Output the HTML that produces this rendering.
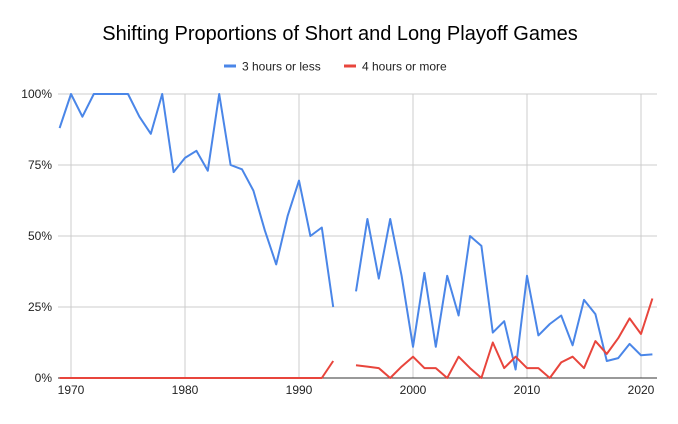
<!DOCTYPE html>
<html><head><style>body{margin:0;background:#fff}</style></head><body>
<svg width="678" height="419" xmlns="http://www.w3.org/2000/svg" font-family="Liberation Sans, Arial, sans-serif">
<rect width="678" height="419" fill="#fff"/>
<text x="340" y="40" text-anchor="middle" font-size="20" fill="#000">Shifting Proportions of Short and Long Playoff Games</text>
<line x1="224" y1="66" x2="236" y2="66" stroke="#4a86e8" stroke-width="3"/>
<text x="242" y="70.5" font-size="12" fill="#222">3 hours or less</text>
<line x1="344" y1="66" x2="356" y2="66" stroke="#e8453c" stroke-width="3"/>
<text x="362" y="70.5" font-size="12" fill="#222">4 hours or more</text>
<g stroke="#ccc" stroke-width="1">
<line x1="58" y1="94" x2="657" y2="94"/><line x1="58" y1="165" x2="657" y2="165"/><line x1="58" y1="236" x2="657" y2="236"/><line x1="58" y1="307" x2="657" y2="307"/>
<line x1="71" y1="94" x2="71" y2="378"/><line x1="185" y1="94" x2="185" y2="378"/><line x1="299" y1="94" x2="299" y2="378"/><line x1="413" y1="94" x2="413" y2="378"/><line x1="527" y1="94" x2="527" y2="378"/><line x1="641" y1="94" x2="641" y2="378"/>
</g>
<line x1="58" y1="378" x2="657" y2="378" stroke="#333" stroke-width="1"/>
<g font-size="12" fill="#222" text-anchor="end">
<text x="52" y="98">100%</text><text x="52" y="169">75%</text><text x="52" y="240">50%</text><text x="52" y="311">25%</text><text x="52" y="382">0%</text>
</g>
<g font-size="12" fill="#222" text-anchor="middle">
<text x="71" y="394">1970</text><text x="185" y="394">1980</text><text x="299" y="394">1990</text><text x="413" y="394">2000</text><text x="527" y="394">2010</text><text x="641" y="394">2020</text>
</g>
<g fill="none" stroke-width="2" stroke-linejoin="round">
<polyline id="b1" stroke="#4a86e8" points=""/>
<polyline id="b2" stroke="#4a86e8" points=""/>
<polyline id="r1" stroke="#e8453c" points=""/>
<polyline id="r2" stroke="#e8453c" points=""/>
</g>
<script>
function pts(start,vals){return vals.map((v,i)=>((71+(start+i-1970)*11.4).toFixed(1))+","+(378-v*2.84).toFixed(1)).join(" ");}
document.getElementById("b1").setAttribute("points",pts(1969,[88,100,92,100,100,100,100,92,86,100,72.5,77.5,80,73,100,75,73.5,66,52,40,57,69.5,50,53,25]));
document.getElementById("b2").setAttribute("points",pts(1995,[30.5,56,35,56,36,11,37,11,36,22,50,46.5,16,20,3,36,15,19,22,11.5,27.5,22.5,6,7,12,8,8.3]));
document.getElementById("r1").setAttribute("points",pts(1969,[0,0,0,0,0,0,0,0,0,0,0,0,0,0,0,0,0,0,0,0,0,0,0,0,6]));
document.getElementById("r2").setAttribute("points",pts(1995,[4.5,4,3.5,0,4,7.5,3.5,3.5,0,7.5,3.5,0,12.5,3.5,7.5,3.5,3.5,0,5.5,7.5,3.5,13,8.5,14,21,15.5,28]));
</script>
</svg>
</body></html>
